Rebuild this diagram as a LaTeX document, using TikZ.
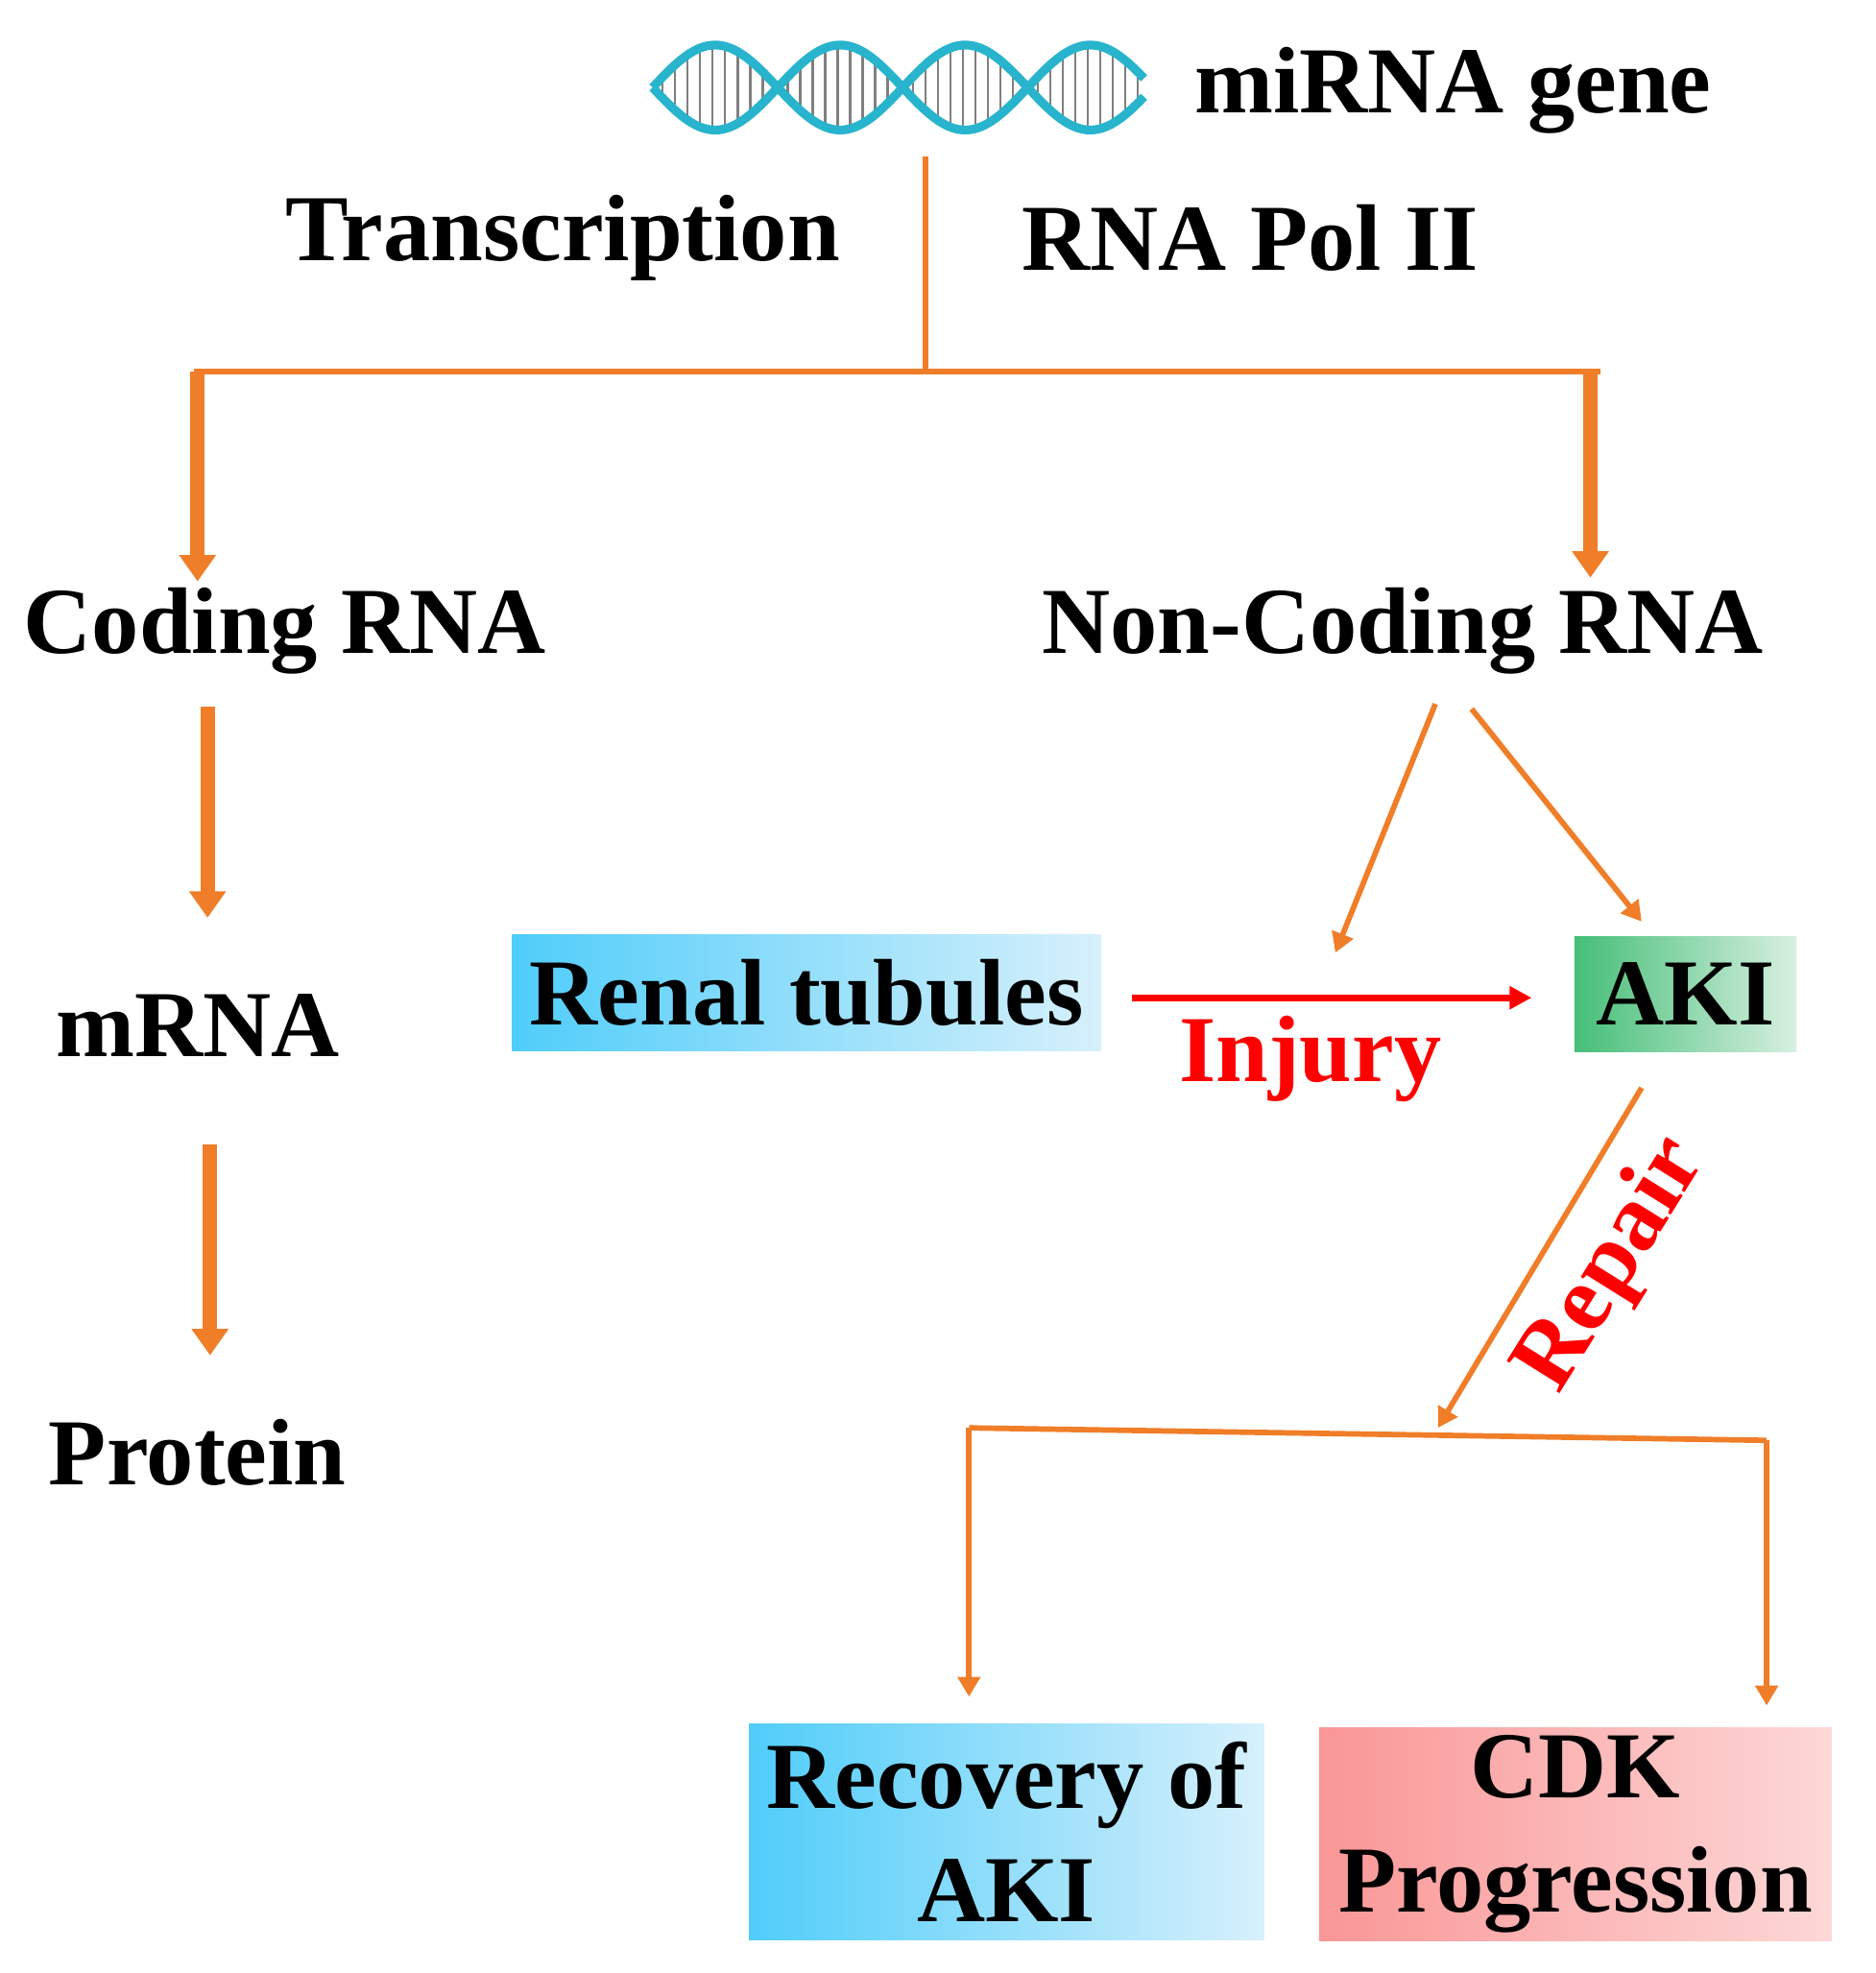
\documentclass[tikz,border=0pt]{standalone}
\usepackage{fontspec}
\setmainfont{Liberation Serif}
\usetikzlibrary{arrows.meta}
\definecolor{org}{RGB}{240,125,40}
\definecolor{cy}{RGB}{80,205,250}
\definecolor{cyl}{RGB}{215,240,252}
\definecolor{gr}{RGB}{70,190,120}
\definecolor{grl}{RGB}{215,240,225}
\definecolor{pk}{RGB}{250,150,150}
\definecolor{pkl}{RGB}{253,215,215}
\definecolor{teal}{RGB}{40,180,205}
\begin{document}
\begin{tikzpicture}[x=0.02cm,y=-0.02cm,
  txt/.style={font=\fontsize{43}{48}\selectfont\bfseries,inner sep=0},
  thick arr/.style={org,line width=6.5pt,-{Triangle[length=12pt,width=16pt]}},
  thin arr/.style={org,line width=2.5pt,-{Triangle[length=9pt,width=10pt]}},
  ln/.style={org,line width=2.5pt},
  box/.style={txt,minimum height=1.85cm,inner xsep=8pt}]
\useasboundingbox (0,0) rectangle (1500,1578);
% DNA
\foreach \x in {530,540,...,910}{
  \draw[gray,line width=1pt] ({\x},{70+34*sin((\x-522)*1.8)}) -- ({\x},{70-34*sin((\x-522)*1.8)});}
\draw[teal,line width=4pt,domain=522:915,samples=120] plot (\x,{70+34*sin((\x-522)*1.8)});
\draw[teal,line width=4pt,domain=522:915,samples=120] plot (\x,{70-34*sin((\x-522)*1.8)});
\node[txt,anchor=west] (gene) at (955,72) {miRNA gene};
\node[txt] (tr) at (450,190) {Transcription};
\node[txt] (pol) at (1000,190) {RNA Pol II};
\coordinate (t0) at (740,125); \coordinate (t1) at (740,297);
\coordinate (hl) at (155,297); \coordinate (hr) at (1280,297);
\draw[ln] (t0)--(t1);
\draw[ln] (hl)--(hr);
\node[txt] (cod) at (228,505) {Coding RNA};
\node[txt] (nc) at (1122,505) {Non-Coding RNA};
\draw[thick arr] (158,297)--(158,465);
\draw[thick arr] (1272,297)--(1272,462);
\node[txt] (mrna) at (158,820) {mRNA};
\node[txt] (prot) at (158,1162) {Protein};
\draw[thick arr] (166,565)--(166,734);
\draw[thick arr] (168,915)--(168,1084);
\node[box,left color=cy,right color=cyl,minimum width=9.2cm] (ren) at (645,794) {Renal tubules};
\node[box,left color=gr,right color=grl,minimum width=3.55cm] (aki) at (1348,795) {AKI};
\draw[thin arr] (1148,563)--(1068,762);
\draw[thin arr] (1177,567)--(1313,737);
\draw[red,line width=3pt,-{Triangle[length=10pt,width=10pt]}] (905,798)--(1225,798);
\node[txt,red] (inj) at (1048,847) {Injury};
\draw[thin arr] (1313,870)--(1150,1142);
\node[txt,red,rotate=58] (rep) at (1290,1012) {Repair};
\draw[ln] (775,1142)--(1413,1152);
\draw[thin arr] (775,1142)--(775,1357);
\draw[thin arr] (1413,1152)--(1413,1364);
\node[box,left color=cy,right color=cyl,minimum width=8.2cm,minimum height=3.45cm,align=center,font=\fontsize{43}{52}\selectfont\bfseries] (rec) at (805,1465) {Recovery of\\AKI};
\node[box,left color=pk,right color=pkl,minimum width=8.2cm,minimum height=3.4cm,align=center,font=\fontsize{43}{52}\selectfont\bfseries] (cdk) at (1260,1467) {CDK\\Progression};
\end{tikzpicture}
\end{document}
